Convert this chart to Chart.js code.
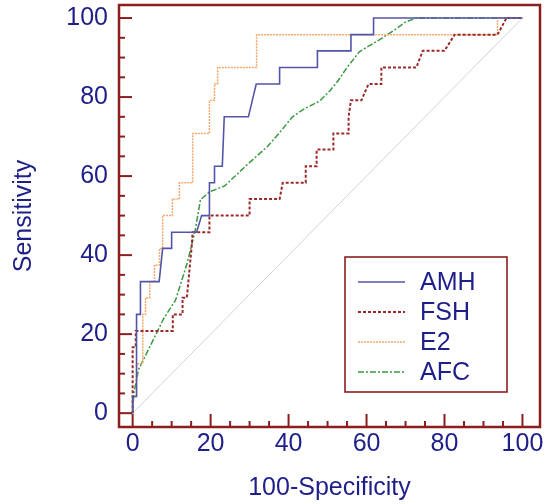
<!DOCTYPE html>
<html>
<head>
<meta charset="utf-8">
<script src="https://cdn.jsdelivr.net/npm/chart.js@4.4.0/dist/chart.umd.min.js"></script>
<style>
  body { margin: 0; background: #fff; }
  #wrap { width: 549px; height: 504px; }
</style>
</head>
<body>
<div id="wrap"><canvas id="myChart" width="549" height="504"></canvas></div>
<script>
// ROC curves (x = 100-Specificity, y = Sensitivity)
const amhX = [0, 0, 1, 1, 2, 2, 6.8, 7.7, 10, 10, 16.4, 17.7, 19.7, 19.7, 21, 21, 23, 23.5, 29.7, 31.7, 37.7, 37.7, 47.4, 47.4, 56, 56, 61.8, 61.8, 100];
const amhY = [0, 4.2, 4.2, 25, 25, 33.3, 33.3, 41.7, 41.7, 45.8, 45.8, 50, 50, 58.3, 58.3, 62.5, 62.5, 75, 75, 83.3, 83.3, 87.5, 87.5, 91.7, 91.7, 95.8, 95.8, 100, 100];

const fshX = [0, 0, 0.8, 0.8, 10.3, 10.3, 12.8, 12.8, 13.9, 14.3, 14.7, 15.1, 15.4, 19.7, 19.7, 30, 30, 37.7, 38.5, 44.4, 44.4, 47.2, 47.2, 51.5, 51.5, 55.4, 55.4, 56, 58.7, 60.5, 63.8, 63.8, 72.8, 74.4, 80, 82.6, 93.6, 95.9, 100];
const fshY = [0, 16.7, 16.7, 20.8, 20.8, 25, 25, 29.2, 29.2, 33.3, 37.5, 41.7, 45.8, 45.8, 50, 50, 54.2, 54.2, 58.3, 58.3, 62.5, 62.5, 66.7, 66.7, 70.8, 70.8, 75, 79.2, 79.2, 83.3, 83.3, 87.5, 87.5, 91.7, 91.7, 95.8, 95.8, 100, 100];

const e2X = [0, 0, 1, 1, 2.6, 2.6, 3.3, 3.3, 4.4, 4.4, 5.6, 5.6, 6.9, 6.9, 7.7, 7.7, 10.2, 10.2, 12, 12, 15.4, 15.4, 19.7, 19.7, 21, 21, 21.8, 21.8, 31.8, 31.8, 93.6, 93.6, 100];
const e2Y = [0, 4.2, 4.2, 12.5, 12.5, 25, 25, 29.2, 29.2, 33.3, 33.3, 37.5, 37.5, 41.7, 41.7, 50, 50, 54.2, 54.2, 58.3, 58.3, 70.8, 70.8, 79.2, 79.2, 83.3, 83.3, 87.5, 87.5, 95.8, 95.8, 100, 100];

const afcX = [0, 0.3, 1.5, 5, 8, 11, 14, 16, 17.4, 19.7, 23.6, 29.5, 34.6, 37.7, 41, 44, 48, 50.5, 52.6, 55, 58.2, 63.3, 67.2, 70, 72.8, 100];
const afcY = [0, 5, 11, 18, 24, 28.6, 38, 46, 54, 56, 57.5, 63, 67.5, 71, 75, 77, 79, 81.5, 84, 87.5, 91.5, 94.5, 97, 99, 100, 100];

const refX = [0, 100];
const refY = [0, 100];

const seriesNames = ['AMH', 'FSH', 'E2', 'AFC'];
const tickValues = [0, 20, 40, 60, 80, 100];

const navy = '#1f1f8a';
const frameRed = '#8b1e1e';
const fontFam = '"Liberation Sans", Arial, sans-serif';

function pts(xs, ys) {
    return xs.map((x, i) => ({x: x, y: ys[i]}));
}

// frame, inward ticks and the boxed legend
const rocDecor = {
    id: 'rocDecor',
    afterDraw(chart) {
        const ctx = chart.ctx;
        const a = chart.chartArea;
        const xs = chart.scales.x, ys = chart.scales.y;
        ctx.save();
        ctx.strokeStyle = frameRed;
        ctx.lineWidth = 2;
        for (let v = 0; v <= 100; v += 5) {
            const len = v % 20 === 0 ? 13 : 6;
            const px = xs.getPixelForValue(v);
            ctx.beginPath();
            ctx.moveTo(px, a.bottom);
            ctx.lineTo(px, a.bottom - len);
            ctx.stroke();
            const py = ys.getPixelForValue(v);
            ctx.beginPath();
            ctx.moveTo(a.left, py);
            ctx.lineTo(a.left + len, py);
            ctx.stroke();
        }
        ctx.lineWidth = 2.5;
        ctx.strokeRect(a.left, a.top, a.right - a.left, a.bottom - a.top);

        // legend box
        const bx = 345, by = 257, bw = 162, bh = 135;
        ctx.fillStyle = '#fff';
        ctx.fillRect(bx, by, bw, bh);
        ctx.lineWidth = 1.6;
        ctx.strokeStyle = frameRed;
        ctx.strokeRect(bx, by, bw, bh);
        const rows = [282, 312, 342, 372];
        ctx.font = '25px ' + fontFam;
        ctx.textBaseline = 'middle';
        seriesNames.forEach((name, i) => {
            const ds = chart.data.datasets[i];
            ctx.strokeStyle = ds.borderColor;
            ctx.lineWidth = ds.borderWidth;
            ctx.setLineDash(ds.borderDash || []);
            ctx.beginPath();
            ctx.moveTo(358, rows[i]);
            ctx.lineTo(405, rows[i]);
            ctx.stroke();
            ctx.setLineDash([]);
            ctx.fillStyle = navy;
            ctx.fillText(ds.label, 420, rows[i] + 1);
        });
        ctx.restore();
    }
};

const ctx = document.getElementById('myChart');

new Chart(ctx, {
    type: 'line',
    data: {
        datasets: [
            { label: seriesNames[0], data: pts(amhX, amhY), borderColor: '#5356a8', borderWidth: 1.6 },
            { label: seriesNames[1], data: pts(fshX, fshY), borderColor: '#9a2a2a', borderWidth: 2, borderDash: [3, 2] },
            { label: seriesNames[2], data: pts(e2X, e2Y), borderColor: '#f5a96c', borderWidth: 1.5, borderDash: [2, 1] },
            { label: seriesNames[3], data: pts(afcX, afcY), borderColor: '#3a9a40', borderWidth: 1.5, borderDash: [6, 2, 2, 2] },
            { label: 'ref', data: pts(refX, refY), borderColor: '#d4d4d4', borderWidth: 1 }
        ]
    },
    options: {
        responsive: false,
        animation: false,
        layout: { padding: { top: 5, right: 9, left: 0, bottom: 0 } },
        elements: { point: { radius: 0 }, line: { tension: 0, fill: false } },
        plugins: { legend: { display: false }, tooltip: { enabled: false } },
        scales: {
            x: {
                type: 'linear',
                min: -3.5,
                max: 104.5,
                grid: { display: false, drawTicks: false },
                border: { display: false },
                afterBuildTicks: (s) => { s.ticks = tickValues.map(v => ({value: v})); },
                afterFit: (s) => { s.height = 77; s.paddingLeft = 0; s.paddingRight = 0; },
                ticks: { color: navy, font: { family: fontFam, size: 25 }, padding: 2, maxRotation: 0 },
                title: { display: true, text: '100-Specificity', color: navy, font: { family: fontFam, size: 25 }, padding: { top: 0, bottom: 1 } }
            },
            y: {
                type: 'linear',
                min: -3.5,
                max: 103.3,
                grid: { display: false, drawTicks: false },
                border: { display: false },
                afterBuildTicks: (s) => { s.ticks = tickValues.map(v => ({value: v})); },
                afterFit: (s) => { s.width = 119; s.paddingTop = 0; s.paddingBottom = 0; },
                ticks: { color: navy, font: { family: fontFam, size: 25 }, padding: 11 },
                title: { display: true, text: 'Sensitivity', color: navy, font: { family: fontFam, size: 25 }, padding: { top: 9, bottom: 0 } }
            }
        }
    },
    plugins: [rocDecor]
});
</script>
</body>
</html>
